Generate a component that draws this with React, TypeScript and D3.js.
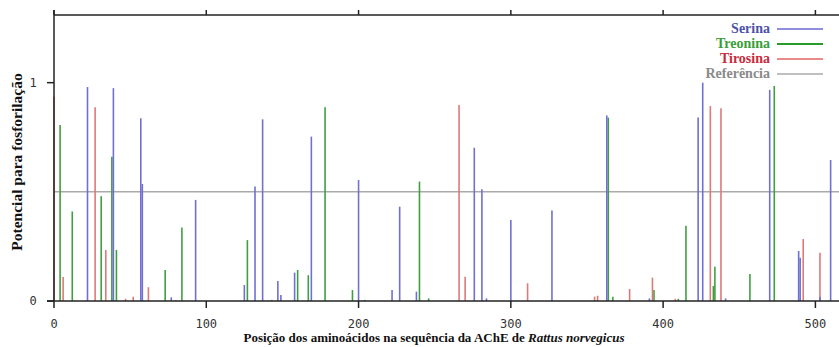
import React from "react";
import * as d3 from "d3";

const serinaPos = [22, 39, 57, 58, 77, 93, 125, 132, 137, 143, 147, 149, 158, 169, 200, 222, 227, 238, 276, 281, 284, 300, 327, 363, 391, 423, 426, 441, 470, 489, 490, 503, 510];
const serinaVal = [0.98, 0.975, 0.837, 0.536, 0.017, 0.463, 0.073, 0.524, 0.832, 0.005, 0.092, 0.027, 0.13, 0.753, 0.554, 0.05, 0.432, 0.043, 0.702, 0.512, 0.012, 0.371, 0.414, 0.85, 0.012, 0.84, 1.0, 0.012, 0.967, 0.229, 0.198, 0.02, 0.646];

const treoninaPos = [4, 12, 31, 38, 41, 73, 84, 127, 160, 167, 178, 196, 204, 240, 246, 364, 367, 394, 410, 415, 433, 434, 457, 473];
const treoninaVal = [0.806, 0.41, 0.48, 0.661, 0.234, 0.142, 0.337, 0.279, 0.142, 0.118, 0.887, 0.05, 0.005, 0.547, 0.012, 0.84, 0.02, 0.05, 0.01, 0.345, 0.069, 0.157, 0.124, 0.985];

const tirosinaPos = [0, 6, 27, 34, 47, 52, 62, 80, 266, 270, 311, 355, 357, 378, 393, 408, 431, 438, 492, 503];
const tirosinaVal = [0.936, 0.11, 0.887, 0.234, 0.01, 0.02, 0.063, 0.005, 0.898, 0.111, 0.081, 0.02, 0.024, 0.055, 0.107, 0.01, 0.893, 0.883, 0.284, 0.221];

const xTicks = [0, 100, 200, 300, 400, 500];
const yTicks = [0, 1];
const referencia = 0.5;
const legendNames = ["Serina", "Treonina", "Tirosina", "Referência"];

const W = 839;
const H = 347;

export default function App() {
  const x = d3.scaleLinear().domain([0, 515.5]).range([54, 839]);
  const y = d3.scaleLinear().domain([0, 1.31]).range([301, 15]);

  const series = [
    { pos: treoninaPos, val: treoninaVal, color: "#3f9f3f" },
    { pos: tirosinaPos, val: tirosinaVal, color: "#e07878" },
    { pos: serinaPos, val: serinaVal, color: "#7070d2" },
  ];

  const legendText = ["#4d52a8", "#3a9e3a", "#c92a3e", "#8a8a8a"];
  const legendLine = ["#6a6ad0", "#2a9a2a", "#e06464", "#aaaaaa"];

  const axisColor = "#222";
  const mono = "'DejaVu Sans Mono', monospace";
  const serif = "'Liberation Serif', 'Times New Roman', serif";

  return (
    <svg width={W} height={H} style={{ position: "absolute", left: 0, top: 0, background: "#fff" }}>
      {/* reference line */}
      <line x1={x(0)} x2={W} y1={y(referencia)} y2={y(referencia)} stroke="#aaaaaa" strokeWidth={1.5} />
      {/* bars */}
      {series.map((s, si) =>
        s.pos.map((p, i) => (
          <line key={`${si}-${i}`} x1={x(p)} x2={x(p)} y1={y(0)} y2={y(s.val[i])} stroke={s.color} strokeWidth={1.6} />
        ))
      )}
      {/* axes */}
      <line x1={x(0)} x2={x(0)} y1={10} y2={y(0)} stroke={axisColor} strokeWidth={1.5} />
      <line x1={47} x2={W} y1={y(0)} y2={y(0)} stroke={axisColor} strokeWidth={1.5} />
      <line x1={x(0)} x2={W} y1={y(1.31)} y2={y(1.31)} stroke={axisColor} strokeWidth={1.5} />
      {xTicks.map((t) => (
        <g key={t}>
          <line x1={x(t)} x2={x(t)} y1={y(0)} y2={y(0) + 7} stroke={axisColor} strokeWidth={1.5} />
          <line x1={x(t)} x2={x(t)} y1={y(1.31)} y2={y(1.31) - 5} stroke={axisColor} strokeWidth={1.5} />
          <text x={x(t)} y={y(0) + 27} textAnchor="middle" fontFamily={mono} fontSize={12} fill="#333">{t}</text>
        </g>
      ))}
      {yTicks.map((t) => (
        <g key={t}>
          <line x1={47} x2={x(0)} y1={y(t)} y2={y(t)} stroke={axisColor} strokeWidth={1.5} />
          <text x={33} y={y(t) + 4} textAnchor="middle" fontFamily={mono} fontSize={12} fill="#333">{t}</text>
        </g>
      ))}
      {/* axis labels */}
      <text transform={`translate(22,162) rotate(-90)`} textAnchor="middle" fontFamily={serif} fontWeight="bold" fontSize={15.5} fill="#111">
        Potencial para fosforilação
      </text>
      <text x={434} y={342} textAnchor="middle" fontFamily={serif} fontWeight="bold" fontSize={13} fill="#111">
        Posição dos aminoácidos na sequência da AChE de <tspan fontStyle="italic">Rattus norvegicus</tspan>
      </text>
      {/* legend */}
      {legendNames.map((n, i) => (
        <g key={n}>
          <text x={770} y={33 + i * 15} textAnchor="end" fontFamily={serif} fontWeight="bold" fontSize={14} fill={legendText[i]}>{n}</text>
          <line x1={777} x2={823} y1={29 + i * 15} y2={29 + i * 15} stroke={legendLine[i]} strokeWidth={i === 1 ? 2 : 1.5} />
        </g>
      ))}
    </svg>
  );
}
